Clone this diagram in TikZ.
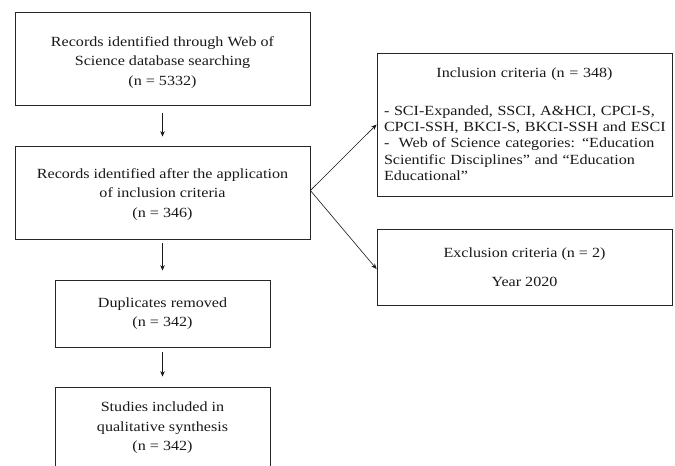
\documentclass[tikz,border=0pt]{standalone}
\usepackage{fontspec}
\setmainfont{Liberation Serif}[FakeStretch=1.15]
\usetikzlibrary{arrows.meta,shadows}
\tikzset{
  box/.style={draw=black!85, line width=0.8pt, fill=white, align=center, inner sep=0pt,
    font=\fontsize{14}{19.5}\selectfont, text=black!90,
    drop shadow={shadow xshift=1.2pt, shadow yshift=-1.2pt, fill=black!35, opacity=0.6}},
  arr/.style={-{Stealth[length=5.5pt,width=4.5pt]}, line width=0.6pt, black!90},
}
\begin{document}
\begin{tikzpicture}[x=1pt,y=-1pt]
\useasboundingbox (0,0) rectangle (675,466);
\clip (0,0) rectangle (675,466);
\node[box, minimum width=295pt, minimum height=93pt] (b1) at (162.5,58.5)
  {\rule{0pt}{17pt}Records identified through Web of\\Science database searching\\(n = 5332)};
\node[box, minimum width=295pt, minimum height=93pt] (b2) at (162.5,192.5)
  {\rule{0pt}{13pt}Records identified after the application\\of inclusion criteria\\(n = 346)};
\node[box, minimum width=215pt, minimum height=67pt] (b3) at (162.5,313.5)
  {Duplicates removed\\(n = 342)};
\node[box, minimum width=215pt, minimum height=82pt] (b4) at (162.5,428)
  {Studies included in\\qualitative synthesis\\(n = 342)};
\node[box, minimum width=295pt, minimum height=143pt, text width=281pt, align=left,
  font=\fontsize{14}{16.4}\selectfont] (inc) at (524.5,124.5)
  {\makebox[\linewidth]{Inclusion criteria (n = 348)}\\[21pt]
   \makebox[\linewidth][s]{- SCI-Expanded, SSCI, A\&HCI, CPCI-S,}\\
   \makebox[\linewidth][s]{CPCI-SSH, BKCI-S, BKCI-SSH and ESCI}\\
   \makebox[\linewidth][s]{-\ \ Web of Science categories: “Education}\\
   Scientific Disciplines” and “Education\\
   Educational”\\[6pt]};
\node[box, minimum width=295pt, minimum height=76pt] (exc) at (524.5,267)
  {Exclusion criteria (n = 2)\\[9pt]Year 2020};
\draw[arr, shorten <=8pt, shorten >=9pt] (b1) -- (b2);
\draw[arr, shorten <=4pt, shorten >=9pt] (b2) -- (b3);
\draw[arr, shorten <=5pt, shorten >=10pt] (b3) -- (b4);
\draw[arr] ([yshift=2pt]b2.east) -- (inc.west);
\draw[arr] ([yshift=2pt]b2.east) -- ([yshift=-2pt]exc.west);
\end{tikzpicture}
\end{document}
